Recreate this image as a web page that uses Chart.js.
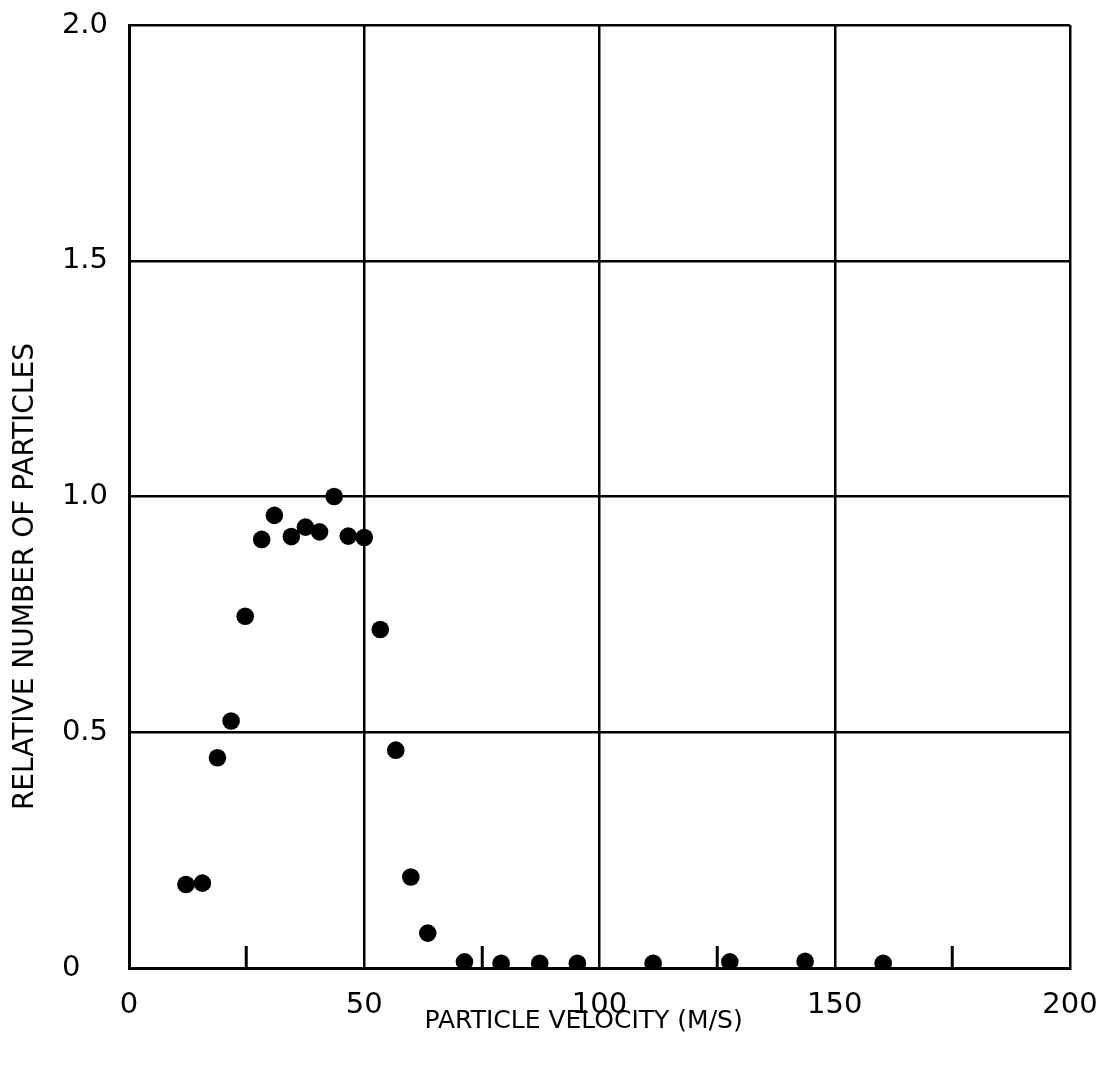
<!DOCTYPE html>
<html><head><meta charset="utf-8">
<script src="https://cdn.jsdelivr.net/npm/chart.js"></script>
<style>html,body{margin:0;padding:0;background:#fff}</style>
</head><body>
<canvas id="c" width="1112" height="1073"></canvas>
<script>
// Data
const velocity = [12.1, 15.6, 18.8, 21.7, 24.7, 28.2, 30.9, 34.5, 37.5, 40.5, 43.6, 46.6, 50.0, 53.4, 56.7, 59.9, 63.5, 71.3, 79.1, 87.3, 95.3, 111.4, 127.7, 143.7, 160.3];
const relativeNumber = [0.177, 0.180, 0.446, 0.524, 0.746, 0.909, 0.960, 0.915, 0.935, 0.925, 1.0, 0.916, 0.913, 0.718, 0.462, 0.193, 0.074, 0.013, 0.010, 0.010, 0.010, 0.010, 0.013, 0.014, 0.010];
const xMajorTicks = [0, 50, 100, 150, 200];
const xMinorTicks = [25, 75, 125, 175];
const yTickValues = [0, 0.5, 1.0, 1.5, 2.0];
const yTickLabels = ['0\u2007 ', '0.5', '1.0', '1.5', '2.0'];
const xTitle = 'PARTICLE VELOCITY (M/S)';
const yTitle = 'RELATIVE NUMBER OF PARTICLES';

const FONT = "'DejaVu Sans', sans-serif";
const points = velocity.map((v, i) => ({x: v, y: relativeNumber[i]}));

new Chart(document.getElementById('c'), {
  type: 'scatter',
  data: {
    datasets: [{
      data: points,
      backgroundColor: '#000',
      borderColor: '#000',
      borderWidth: 0,
      pointRadius: 8.8,
      pointHoverRadius: 8.8,
      clip: {left: false, top: false, right: false, bottom: 0}
    }]
  },
  options: {
    responsive: false,
    animation: false,
    devicePixelRatio: 1,
    layout: {padding: {top: 25, right: 42, bottom: 0, left: 0}},
    plugins: {legend: {display: false}, tooltip: {enabled: false}},
    scales: {
      x: {
        type: 'linear',
        min: 0, max: 200,
        afterBuildTicks: (s) => { s.ticks = [...xMajorTicks, ...xMinorTicks].sort((a,b)=>a-b).map(v => ({value: v})); },
        afterFit: (s) => { s.height = 105; s.paddingLeft = 0; s.paddingRight = 0; },
        grid: {
          color: (c) => (c.tick && xMajorTicks.includes(c.tick.value)) ? '#000' : 'rgba(0,0,0,0)',
          lineWidth: 2.5,
          drawTicks: true,
          tickLength: -22,
          tickWidth: 3,
          tickColor: (c) => (c.tick && xMinorTicks.includes(c.tick.value)) ? '#000' : 'rgba(0,0,0,0)'
        },
        border: {display: true, color: '#000', width: 3},
        ticks: {
          autoSkip: false,
          maxRotation: 0,
          padding: 42,
          color: '#000',
          font: {family: FONT, size: 29},
          callback: (v) => xMajorTicks.includes(v) ? String(v) : ''
        },
        title: {
          display: true,
          text: xTitle + ' '.repeat(4),
          color: '#000',
          font: {family: FONT, size: 25},
          padding: {top: 0, bottom: 37}
        }
      },
      y: {
        type: 'linear',
        min: 0, max: 2,
        afterBuildTicks: (s) => { s.ticks = yTickValues.map(v => ({value: v})); },
        afterFit: (s) => { s.width = 129; s.paddingTop = 0; s.paddingBottom = 0; },
        grid: {color: '#000', lineWidth: 2.5, drawTicks: false},
        border: {display: true, color: '#000', width: 3},
        ticks: {
          padding: 21,
          color: '#000',
          font: {family: FONT, size: 29},
          callback: (v) => yTickLabels[yTickValues.indexOf(v)]
        },
        title: {
          display: true,
          text: yTitle + ' '.repeat(18),
          color: '#000',
          font: {family: FONT, size: 28},
          padding: {top: 9, bottom: 0}
        }
      }
    }
  }
});
</script>
</body></html>
